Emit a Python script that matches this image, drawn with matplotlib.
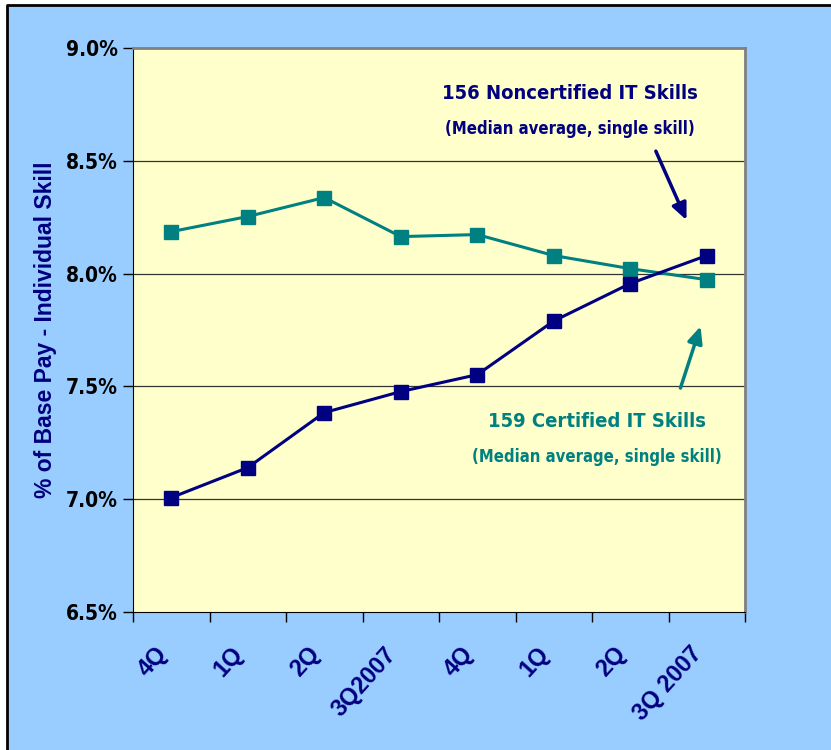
#-  Python 3 source code

#-  plot.py ~~
#
#   Pay premiums for certified vs. noncertified IT skills, by quarter,
#   redrawn as a line chart with callout arrows.

import matplotlib
matplotlib.use("Agg")
import matplotlib.pyplot as pyplot
from matplotlib.lines import Line2D
from matplotlib.patches import Rectangle

quarters = ["4Q", "1Q", "2Q", "3Q2007", "4Q", "1Q", "2Q", "3Q 2007"]

certified = [8.186, 8.253, 8.337, 8.164, 8.173, 8.080, 8.022, 7.973]
noncertified = [7.007, 7.140, 7.384, 7.477, 7.552, 7.790, 7.956, 8.080]

yticks = [6.5, 7.0, 7.5, 8.0, 8.5, 9.0]

NAVY = "#000080"
TEAL = "#008080"

###

def narrow(size):
  # Condensed bold face, nearest thing here to Arial Narrow
    return dict(family="DejaVu Sans", fontstretch="condensed",
                fontweight="bold", fontsize=size)

def wide(size):
  # Arial-metric bold face
    return dict(family="Liberation Sans", fontstretch="normal",
                fontweight="bold", fontsize=size)

def main():

    fig = pyplot.figure(figsize=(8.31, 7.5), dpi=100)
    fig.patch.set_facecolor("white")

  # Light blue chart area with a black edge on the left and top
    left, top = 7 / 831, 1 - 5 / 750
    fig.patches.append(Rectangle((left, 0), 1 - left, top,
                                 transform=fig.transFigure, facecolor="#99CCFF",
                                 edgecolor="none", zorder=-10))
    fig.lines.append(Line2D([left, left, 1], [0, top, top],
                            transform=fig.transFigure, color="black",
                            linewidth=2))

    ax = fig.add_axes([133 / 831, 1 - 612 / 750, 612 / 831, 564 / 750])
    ax.set_facecolor("#FFFFCC")

    xs = list(range(len(quarters)))

    ax.plot(xs, certified, color=TEAL, linewidth=2.2, marker="s",
            markersize=10, zorder=3, clip_on=False)
    ax.plot(xs, noncertified, color=NAVY, linewidth=2.2, marker="s",
            markersize=10, zorder=4, clip_on=False)

    ax.set_xlim(-0.5, len(quarters) - 0.5)
    ax.set_ylim(yticks[0], yticks[-1])

    ax.set_yticks(yticks)
    ax.set_yticklabels(["%.1f%%" % v for v in yticks], **narrow(15))
    ax.tick_params(axis="y", direction="out", length=7, width=1, pad=4)
    for v in yticks[1:-1]:
        ax.axhline(v, color="#333333", linewidth=0.9, zorder=1)

  # Category labels (invisible ticks nudged left so the text ends just
  # short of each category centre), tick marks on the boundaries
    ax.set_xticks([x - 0.22 for x in xs])
    ax.set_xticklabels(quarters, rotation=48, ha="right", va="top",
                       rotation_mode="anchor", color=NAVY, **wide(17))
    ax.tick_params(axis="x", which="major", length=0, pad=22)
    ax.set_xticks([i - 0.5 for i in range(len(quarters) + 1)], minor=True)
    ax.tick_params(axis="x", which="minor", direction="out", length=7,
                   width=1)

    for side in ["left", "bottom"]:
        ax.spines[side].set_color("black")
    for side in ["top", "right"]:
        ax.spines[side].set_color("#808080")
        ax.spines[side].set_linewidth(2)

    ax.set_ylabel("% of Base Pay - Individual Skill", color=NAVY,
                  **wide(16.5))
    ax.yaxis.set_label_coords(-0.124, 0.5)

  # Callouts
    ax.text(5.21, 8.80, "156 Noncertified IT Skills", color=NAVY,
            ha="center", va="center", **narrow(14.5))
    ax.text(5.21, 8.643, "(Median average, single skill)", color=NAVY,
            ha="center", va="center", **narrow(12))
    ax.annotate("", xy=(6.75, 8.226), xytext=(6.32, 8.554),
                arrowprops=dict(arrowstyle="-|>,head_width=0.45,head_length=1.0",
                                color=NAVY, linewidth=2.5))

    ax.text(5.57, 7.344, "159 Certified IT Skills", color=TEAL,
            ha="center", va="center", **narrow(14.5))
    ax.text(5.57, 7.189, "(Median average, single skill)", color=TEAL,
            ha="center", va="center", **narrow(12))
    ax.annotate("", xy=(6.93, 7.778), xytext=(6.645, 7.481),
                arrowprops=dict(arrowstyle="-|>,head_width=0.45,head_length=1.0",
                                color=TEAL, linewidth=2.5))

    fig.savefig("out.png", dpi=100)

###

if __name__ == "__main__":
    main()

#-  vim:set syntax=python:
